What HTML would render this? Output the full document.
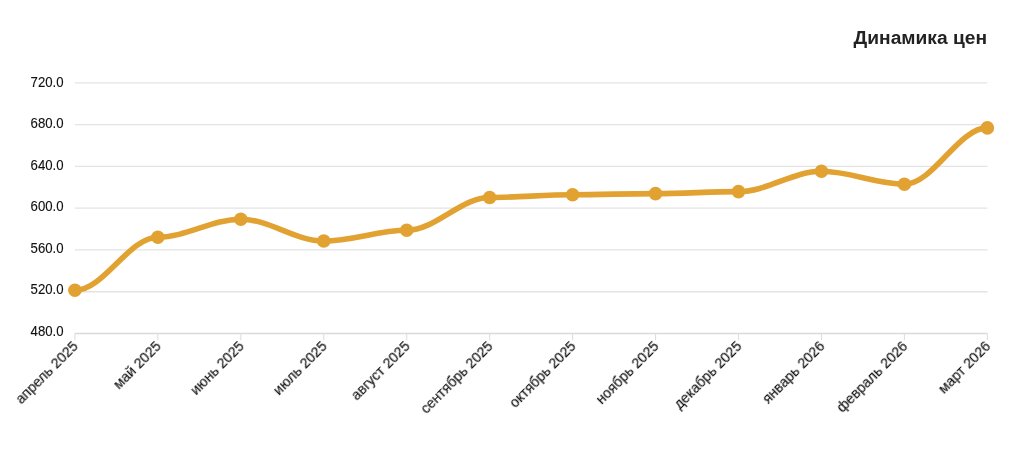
<!DOCTYPE html>
<html><head><meta charset="utf-8"><style>
html,body{margin:0;padding:0;background:#fff;width:1024px;height:452px;overflow:hidden}
svg{display:block;font-family:"Liberation Sans",sans-serif}
text{will-change:transform}
</style></head><body>
<svg width="1024" height="452" viewBox="0 0 1024 452">
<text x="987" y="44" text-anchor="end" font-size="19.2" font-weight="700" fill="#222">Динамика цен</text>
<g>
<line x1="74.90" y1="82.90" x2="987.35" y2="82.90" stroke="#e3e3e3" stroke-width="1.3"/>
<line x1="74.90" y1="124.67" x2="987.35" y2="124.67" stroke="#e3e3e3" stroke-width="1.3"/>
<line x1="74.90" y1="166.43" x2="987.35" y2="166.43" stroke="#e3e3e3" stroke-width="1.3"/>
<line x1="74.90" y1="208.20" x2="987.35" y2="208.20" stroke="#e3e3e3" stroke-width="1.3"/>
<line x1="74.90" y1="249.97" x2="987.35" y2="249.97" stroke="#e3e3e3" stroke-width="1.3"/>
<line x1="74.90" y1="291.73" x2="987.35" y2="291.73" stroke="#e3e3e3" stroke-width="1.3"/>
<line x1="74.90" y1="333.50" x2="987.35" y2="333.50" stroke="#d9d9d9" stroke-width="1.3"/>
<line x1="74.90" y1="333.50" x2="74.90" y2="340.30" stroke="#dedede" stroke-width="1.1"/>
<line x1="157.85" y1="333.50" x2="157.85" y2="340.30" stroke="#dedede" stroke-width="1.1"/>
<line x1="240.80" y1="333.50" x2="240.80" y2="340.30" stroke="#dedede" stroke-width="1.1"/>
<line x1="323.75" y1="333.50" x2="323.75" y2="340.30" stroke="#dedede" stroke-width="1.1"/>
<line x1="406.70" y1="333.50" x2="406.70" y2="340.30" stroke="#dedede" stroke-width="1.1"/>
<line x1="489.65" y1="333.50" x2="489.65" y2="340.30" stroke="#dedede" stroke-width="1.1"/>
<line x1="572.60" y1="333.50" x2="572.60" y2="340.30" stroke="#dedede" stroke-width="1.1"/>
<line x1="655.55" y1="333.50" x2="655.55" y2="340.30" stroke="#dedede" stroke-width="1.1"/>
<line x1="738.50" y1="333.50" x2="738.50" y2="340.30" stroke="#dedede" stroke-width="1.1"/>
<line x1="821.45" y1="333.50" x2="821.45" y2="340.30" stroke="#dedede" stroke-width="1.1"/>
<line x1="904.40" y1="333.50" x2="904.40" y2="340.30" stroke="#dedede" stroke-width="1.1"/>
<line x1="987.35" y1="333.50" x2="987.35" y2="340.30" stroke="#dedede" stroke-width="1.1"/>
</g>
<g font-size="14" fill="#111" stroke="#111" stroke-width="0.12">
<text x="0" y="0" text-anchor="end" transform="translate(63.6 86.50) scale(0.942 1)">720.0</text>
<text x="0" y="0" text-anchor="end" transform="translate(63.6 128.07) scale(0.942 1)">680.0</text>
<text x="0" y="0" text-anchor="end" transform="translate(63.6 169.64) scale(0.942 1)">640.0</text>
<text x="0" y="0" text-anchor="end" transform="translate(63.6 211.21) scale(0.942 1)">600.0</text>
<text x="0" y="0" text-anchor="end" transform="translate(63.6 252.78) scale(0.942 1)">560.0</text>
<text x="0" y="0" text-anchor="end" transform="translate(63.6 294.35) scale(0.942 1)">520.0</text>
<text x="0" y="0" text-anchor="end" transform="translate(63.6 335.92) scale(0.942 1)">480.0</text>
</g>
<g font-size="14.1" fill="#111" stroke="#111" stroke-width="0.15">
<text x="79.20" y="347.30" text-anchor="end" transform="rotate(-45 79.20 347.30)">апрель 2025</text>
<text x="162.15" y="347.30" text-anchor="end" transform="rotate(-45 162.15 347.30)">май 2025</text>
<text x="245.10" y="347.30" text-anchor="end" transform="rotate(-45 245.10 347.30)">июнь 2025</text>
<text x="328.05" y="347.30" text-anchor="end" transform="rotate(-45 328.05 347.30)">июль 2025</text>
<text x="411.00" y="347.30" text-anchor="end" transform="rotate(-45 411.00 347.30)">август 2025</text>
<text x="493.95" y="347.30" text-anchor="end" transform="rotate(-45 493.95 347.30)">сентябрь 2025</text>
<text x="576.90" y="347.30" text-anchor="end" transform="rotate(-45 576.90 347.30)">октябрь 2025</text>
<text x="659.85" y="347.30" text-anchor="end" transform="rotate(-45 659.85 347.30)">ноябрь 2025</text>
<text x="742.80" y="347.30" text-anchor="end" transform="rotate(-45 742.80 347.30)">декабрь 2025</text>
<text x="825.75" y="347.30" text-anchor="end" transform="rotate(-45 825.75 347.30)">январь 2026</text>
<text x="908.70" y="347.30" text-anchor="end" transform="rotate(-45 908.70 347.30)">февраль 2026</text>
<text x="991.65" y="347.30" text-anchor="end" transform="rotate(-45 991.65 347.30)">март 2026</text>
</g>
<path d="M74.90,290.30 C103.93,290.30 128.82,237.20 157.85,237.20 C186.88,237.20 211.77,219.20 240.80,219.20 C269.83,219.20 294.72,241.00 323.75,241.00 C352.78,241.00 377.67,230.30 406.70,230.30 C435.73,230.30 460.62,197.50 489.65,197.50 C518.68,197.50 543.57,194.70 572.60,194.70 C601.63,194.70 626.52,193.60 655.55,193.60 C684.58,193.60 709.47,191.60 738.50,191.60 C767.53,191.60 792.42,171.30 821.45,171.30 C850.48,171.30 875.37,184.20 904.40,184.20 C933.43,184.20 958.32,127.90 987.35,127.90" fill="none" stroke="#e2a232" stroke-width="5.6" stroke-linecap="round" stroke-linejoin="round"/>
<circle cx="74.90" cy="290.30" r="6.8" fill="#e2a232"/>
<circle cx="157.85" cy="237.20" r="6.8" fill="#e2a232"/>
<circle cx="240.80" cy="219.20" r="6.8" fill="#e2a232"/>
<circle cx="323.75" cy="241.00" r="6.8" fill="#e2a232"/>
<circle cx="406.70" cy="230.30" r="6.8" fill="#e2a232"/>
<circle cx="489.65" cy="197.50" r="6.8" fill="#e2a232"/>
<circle cx="572.60" cy="194.70" r="6.8" fill="#e2a232"/>
<circle cx="655.55" cy="193.60" r="6.8" fill="#e2a232"/>
<circle cx="738.50" cy="191.60" r="6.8" fill="#e2a232"/>
<circle cx="821.45" cy="171.30" r="6.8" fill="#e2a232"/>
<circle cx="904.40" cy="184.20" r="6.8" fill="#e2a232"/>
<circle cx="987.35" cy="127.90" r="6.8" fill="#e2a232"/>

</svg>
</body></html>
